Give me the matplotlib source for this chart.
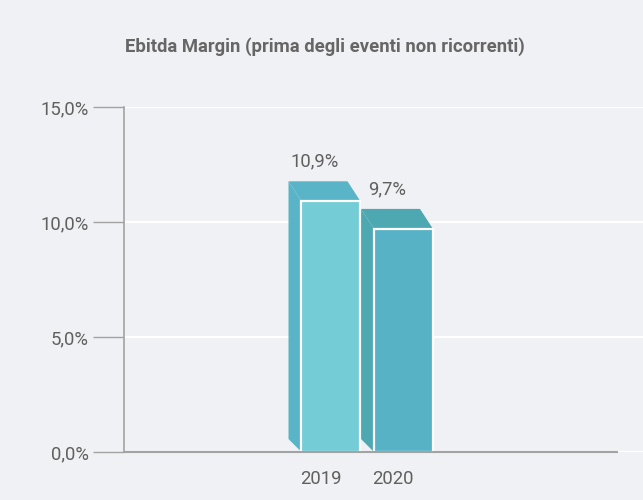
import matplotlib
matplotlib.use("Agg")
import matplotlib.pyplot as plt
from matplotlib.patches import Polygon
from matplotlib.ticker import FuncFormatter, FixedLocator

plt.rcParams['font.family'] = ['Roboto', 'DejaVu Sans']

# Data
years = ["2019", "2020"]
margins = [10.9, 9.7]
value_labels = ["10,9%", "9,7%"]
y_ticks = [0, 5, 10, 15]

# Styling
bg = "#F0F1F4"
front_colors = ["#73CCD6", "#57B2C6"]
side_colors = ["#5AB4C8", "#4EA8B1"]
text_color = "#606060"
axis_color = "#A3A3A3"
label_size = 13.3

fig = plt.figure(figsize=(6.43, 5.00), dpi=100, facecolor=bg)
W, H = 643, 500
ax_left, ax_right = 124, 643
ax_top, ax_bottom = 107, 452
ax = fig.add_axes([ax_left / W, 1 - ax_bottom / H,
                   (ax_right - ax_left) / W, (ax_bottom - ax_top) / H])
ax.set_facecolor(bg)

# Horizontal scale: one category step = 72.5 px, first bar centred at x=331 px
step_px = 72.5
first_center_px = 331
x0_lim = -(first_center_px - ax_left) / step_px
x1_lim = (ax_right - first_center_px) / step_px
ax.set_xlim(x0_lim, x1_lim)
ax.set_ylim(0, 15)

px_per_pct = (ax_bottom - ax_top) / 15.0
bar_w = 59 / step_px
depth_x = 13 / step_px
depth_top = 20 / px_per_pct
depth_bot = 13 / px_per_pct

xs = list(range(len(years)))

# 3D side and top faces
for x, v, sc in zip(xs, margins, side_colors):
    left = x - bar_w / 2
    right = x + bar_w / 2
    side = Polygon([(left - depth_x, v + depth_top), (left, v),
                    (left, 0), (left - depth_x, depth_bot)],
                   closed=True, facecolor=sc, edgecolor='none', zorder=3)
    top = Polygon([(left - depth_x, v + depth_top), (right - depth_x, v + depth_top),
                   (right, v), (left, v)],
                  closed=True, facecolor=sc, edgecolor='none', zorder=3)
    ax.add_patch(side)
    ax.add_patch(top)

# Front faces
ax.bar(xs, margins, width=bar_w, color=front_colors, edgecolor='white',
       linewidth=1.6, zorder=4)

# Value labels above the back faces
for x, v, lab in zip(xs, margins, value_labels):
    ax.text(x - depth_x - 0.05, v + depth_top + 0.85, lab, ha='center', va='center',
            fontsize=label_size, color=text_color, zorder=5)

# Grid
ax.yaxis.set_major_locator(FixedLocator(y_ticks))
ax.yaxis.grid(True, color='white', linewidth=1.6, zorder=1)
ax.set_axisbelow(True)
ax.yaxis.set_major_formatter(FuncFormatter(lambda v, p: f"{v:.1f}%".replace('.', ',')))

# Spines
for s in ['top', 'right']:
    ax.spines[s].set_visible(False)
ax.spines['left'].set_color(axis_color)
ax.spines['left'].set_linewidth(1.2)
ax.spines['bottom'].set_color(axis_color)
ax.spines['bottom'].set_linewidth(1.5)
ax.spines['bottom'].set_bounds(x0_lim, (617 - first_center_px) / step_px)
ax.spines['bottom'].set_zorder(6)

ax.tick_params(axis='y', length=22, width=1.0, color=axis_color, pad=3.5,
               labelsize=label_size, labelcolor=text_color)
ax.set_xticks([x - 0.14 for x in xs])
ax.set_xticklabels(years)
ax.tick_params(axis='x', length=0, pad=13, labelsize=label_size, labelcolor=text_color)

fig.text(325 / W, 1 - 47 / H, "Ebitda Margin (prima degli eventi non ricorrenti)",
         ha='center', va='center', fontsize=13.3, fontweight='bold', color="#666666")

fig.savefig("out.png", dpi=100, facecolor=bg)
